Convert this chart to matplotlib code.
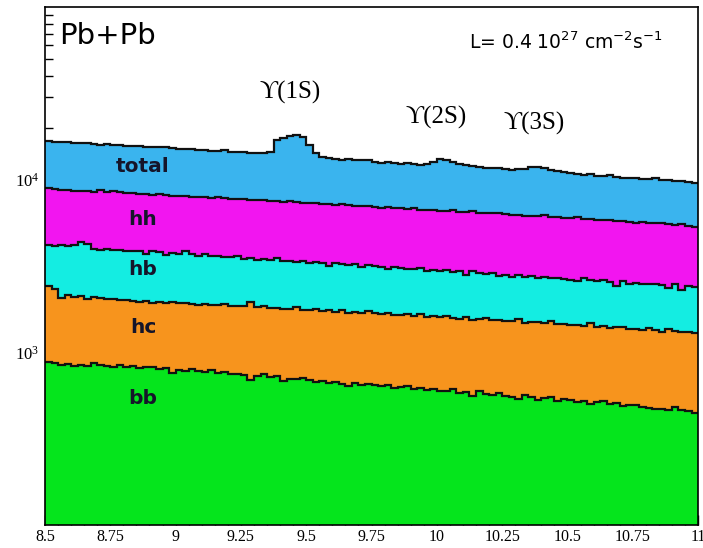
import numpy as np
import matplotlib
matplotlib.use("Agg")
import matplotlib.pyplot as plt
from matplotlib.ticker import FixedLocator, LogLocator, NullFormatter, MultipleLocator

# ---- data: stacked histogram levels (cumulative tops), 100 bins from 8.5 to 11 GeV ----
x_min, x_max, n_bins = 8.5, 11.0, 100

total = [16700, 16550, 16450, 16500, 16300, 16250, 16350, 16100, 16000, 16050,
         15800, 15900, 15700, 15650, 15750, 15500, 15450, 15400, 15450, 15250,
         15150, 15100, 15000, 14900, 14950, 14750, 14700, 14800, 14550, 14500,
         14400, 14350, 14300, 14250, 14400, 17000, 17500, 18000, 18100, 17800,
         15800, 14300, 13500, 13300, 13200, 13100, 13150, 13000, 12950, 13050,
         12600, 12550, 12650, 12450, 12400, 12500, 12300, 12250, 12350, 12700,
         13150, 13100, 12650, 12350, 12100, 11950, 11800, 11750, 11650, 11700,
         11500, 11450, 11500, 11600, 11800, 11850, 11700, 11400, 11200, 11050,
         10900, 10800, 10700, 10750, 10550, 10500, 10600, 10350, 10300, 10250,
         10200, 10150, 10100, 10250, 10000, 9900, 9850, 9800, 9700, 9600]

hh = [8900, 8820, 8760, 8720, 8640, 8600, 8560, 8520, 8700, 8480,
      8650, 8500, 8380, 8350, 8300, 8250, 8200, 8260, 8120, 8100,
      8020, 8060, 7950, 7980, 7900, 7850, 7920, 7800, 7760, 7700,
      7720, 7650, 7600, 7680, 7560, 7500, 7470, 7520, 7400, 7380,
      7300, 7340, 7250, 7200, 7170, 7230, 7100, 7080, 7050, 7000,
      6950, 6900, 6930, 6850, 6820, 6800, 6860, 6720, 6700, 6650,
      6600, 6580, 6700, 6520, 6480, 6550, 6430, 6400, 6380, 6420,
      6300, 6250, 6280, 6200, 6180, 6150, 6220, 6100, 6050, 6000,
      5980, 6050, 5950, 5900, 5870, 5820, 5880, 5800, 5780, 5700,
      5650, 5720, 5600, 5580, 5650, 5520, 5480, 5560, 5400, 5350]

hb = [4200, 4150, 4180, 4120, 4160, 4380, 4250, 3980, 3920, 3950,
      3900, 3930, 3880, 3890, 3850, 3700, 3860, 3800, 3650, 3780,
      3720, 3850, 3700, 3640, 3690, 3600, 3620, 3580, 3560, 3600,
      3480, 3520, 3450, 3470, 3420, 3500, 3380, 3400, 3350, 3370,
      3300, 3330, 3280, 3150, 3300, 3250, 3200, 3230, 3120, 3190,
      3160, 3130, 3050, 3140, 3100, 3060, 3040, 3070, 2950, 3000,
      2980, 3010, 2940, 2960, 2800, 2950, 2880, 2850, 2900, 2780,
      2820, 2750, 2800, 2720, 2760, 2700, 2740, 2680, 2710, 2650,
      2640, 2600, 2680, 2620, 2590, 2610, 2560, 2420, 2580, 2500,
      2520, 2480, 2490, 2500, 2470, 2350, 2480, 2300, 2420, 2380]

hc = [2420, 2330, 2060, 2150, 2080, 2120, 2040, 2090, 2060, 2030,
      2050, 2000, 2020, 1990, 1960, 1985, 1940, 1965, 1930, 1950,
      1920, 1940, 1905, 1885, 1900, 1870, 1880, 1910, 1850, 1845,
      1860, 1960, 1830, 1850, 1800, 1815, 1790, 1780, 1830, 1770,
      1760, 1775, 1740, 1755, 1720, 1760, 1700, 1715, 1690, 1730,
      1680, 1665, 1700, 1650, 1640, 1670, 1620, 1660, 1600, 1615,
      1595, 1630, 1580, 1570, 1600, 1545, 1560, 1575, 1530, 1545,
      1520, 1515, 1560, 1480, 1500, 1490, 1470, 1510, 1455, 1465,
      1440, 1450, 1425, 1470, 1410, 1420, 1385, 1400, 1405, 1370,
      1360, 1340, 1380, 1345, 1310, 1360, 1330, 1320, 1305, 1290]

bb = [885, 862, 848, 852, 838, 845, 832, 868, 842, 835,
      826, 840, 818, 830, 812, 825, 820, 800, 815, 760,
      790, 785, 800, 780, 770, 790, 760, 772, 750, 745,
      735, 690, 730, 745, 720, 728, 680, 705, 700, 712,
      690, 675, 680, 668, 672, 660, 640, 665, 650, 655,
      645, 638, 650, 625, 632, 640, 610, 625, 605, 612,
      600, 595, 610, 585, 590, 560, 595, 575, 570, 580,
      560, 555, 540, 565, 548, 530, 545, 555, 520, 535,
      528, 515, 525, 500, 518, 520, 505, 510, 490, 498,
      495, 480, 478, 470, 472, 465, 480, 462, 455, 445]

layer_names = ["total", "hh", "hb", "hc", "bb"]
layer_colors = ["#3ab4ee", "#f215f0", "#14ede2", "#f7941d", "#05e51c"]
layer_values = [total, hh, hb, hc, bb]

peak_labels = ["\u03d2(1S)", "\u03d2(2S)", "\u03d2(3S)"]
x_ticks = [8.5, 8.75, 9, 9.25, 9.5, 9.75, 10, 10.25, 10.5, 10.75, 11]
x_tick_labels = ["8.5", "8.75", "9", "9.25", "9.5", "9.75", "10", "10.25", "10.5", "10.75", "11"]
y_ticks = [1e3, 1e4]
y_tick_labels = [r"$\mathregular{10^{3}}$", r"$\mathregular{10^{4}}$"]

# ---- figure ----
fig = plt.figure(figsize=(7.03, 5.48), dpi=100)
fig.patch.set_facecolor("white")
ax = fig.add_axes([0.064, 0.042, 0.929, 0.945])

edges = np.linspace(x_min, x_max, n_bins + 1)
ymin, ymax = 100, 1e5
for name, col, vals in zip(layer_names, layer_colors, layer_values):
    ax.stairs(vals, edges, fill=True, baseline=ymin, color=col, lw=0, zorder=2)
    ax.stairs(vals, edges, fill=False, baseline=None, color="#111111", lw=1.6, zorder=3)

ax.set_yscale("log")
ax.set_xlim(x_min, x_max)
ax.set_ylim(ymin, ymax)

serif = ["Liberation Serif", "DejaVu Serif"]
ax.xaxis.set_major_locator(FixedLocator(x_ticks))
ax.set_xticklabels(x_tick_labels, family=serif, fontsize=11.5)
ax.xaxis.set_minor_locator(MultipleLocator(0.05))
ax.yaxis.set_major_locator(FixedLocator(y_ticks))
ax.set_yticklabels(y_tick_labels, family=serif, fontsize=12)
ax.yaxis.set_minor_locator(LogLocator(base=10, subs=np.arange(2, 10)))
ax.yaxis.set_minor_formatter(NullFormatter())

ax.tick_params(axis="x", which="major", direction="in", length=7, width=1, pad=3, top=False)
ax.tick_params(axis="x", which="minor", direction="in", length=4, width=1, top=False)
ax.tick_params(axis="y", which="major", direction="in", length=12, width=1, pad=4, right=False)
ax.tick_params(axis="y", which="minor", direction="in", length=6, width=1, right=False)
for sp in ax.spines.values():
    sp.set_linewidth(1.2)
    sp.set_zorder(5)

# ---- annotations ----
ax.text(0.022, 0.944, "Pb+Pb", transform=ax.transAxes, fontsize=21,
        family=["DejaVu Sans"], va="center", ha="left")
ax.text(0.650, 0.932, r"L= 0.4 10$^{27}$ cm$^{-2}$s$^{-1}$", transform=ax.transAxes,
        fontsize=13.5, family=["DejaVu Sans"], va="center", ha="left")

ax.text(9.44, 3.19e4, peak_labels[0], fontsize=18, family=serif, ha="center", va="center")
ax.text(9.998, 2.285e4, peak_labels[1], fontsize=18, family=serif, ha="center", va="center")
ax.text(10.374, 2.11e4, peak_labels[2], fontsize=18, family=serif, ha="center", va="center")

lab_x = 8.875
for txt, yv in zip(layer_names, [11900, 5870, 3015, 1390, 540]):
    ax.text(lab_x, yv, txt, fontsize=14.5, fontweight="bold", color="#15152a",
            family=["DejaVu Sans"], ha="center", va="center", zorder=6)

fig.savefig("out.png", dpi=100)
